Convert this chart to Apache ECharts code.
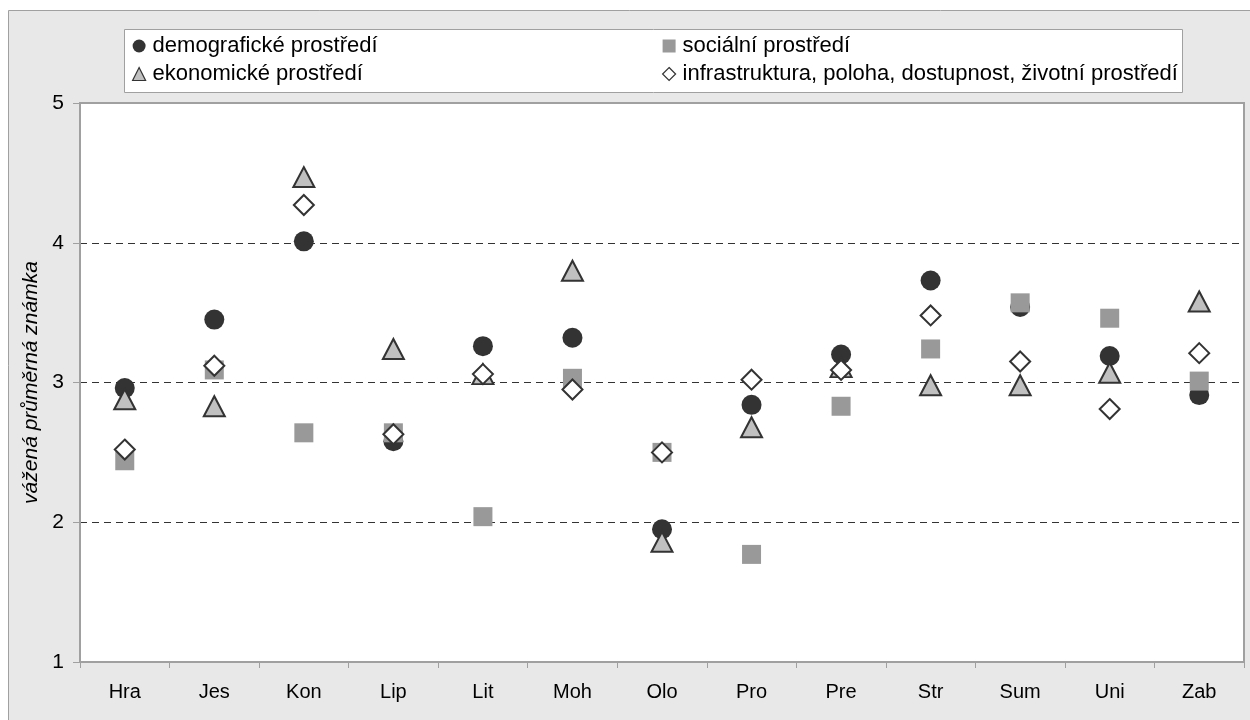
<!DOCTYPE html>
<html><head><meta charset="utf-8">
<script src="https://cdn.jsdelivr.net/npm/echarts@6/dist/echarts.min.js"></script>
<style>html,body{margin:0;padding:0;background:#fff;}#c{width:1250px;height:720px;}</style>
</head><body><div id="c"></div>
<script>
const categories = ['Hra','Jes','Kon','Lip','Lit','Moh','Olo','Pro','Pre','Str','Sum','Uni','Zab'];
const demograficke = [2.96, 3.45, 4.01, 2.58, 3.26, 3.32, 1.95, 2.84, 3.20, 3.73, 3.54, 3.19, 2.91];
const socialni     = [2.44, 3.09, 2.64, 2.64, 2.04, 3.03, 2.50, 1.77, 2.83, 3.24, 3.57, 3.46, 3.01];
const ekonomicke   = [2.88, 2.83, 4.47, 3.24, 3.06, 3.80, 1.86, 2.68, 3.11, 2.98, 2.98, 3.07, 3.58];
const infrastruktura = [2.52, 3.12, 4.27, 2.63, 3.06, 2.95, 2.50, 3.02, 3.09, 3.48, 3.15, 2.81, 3.21];
const yTicks = [1, 2, 3, 4, 5];
const names = ['demografické prostředí','sociální prostředí','ekonomické prostředí','infrastruktura, poloha, dostupnost, životní prostředí'];
const yName = 'vážená průměrná známka';

const FONT = '"Liberation Sans", Arial, sans-serif';
const legendText = {fontFamily:FONT, fontSize:22, color:'#000', lineHeight:22, padding:[0,0,0,2]};
const chart = echarts.init(document.getElementById('c'));
chart.setOption({
  animation: false,
  backgroundColor: '#fff',
  graphic: [
    {type:'rect', z:-10, shape:{x:8.5,y:10.5,width:1260,height:730}, style:{fill:'#e8e8e8', stroke:'#a0a0a0', lineWidth:1}},
    {type:'rect', z:-5, shape:{x:124.5,y:29.5,width:1058,height:63}, style:{fill:'#fff', stroke:'#a0a0a0', lineWidth:1}}
  ],
  grid: {left:80, top:103, right:6, bottom:58, show:true, backgroundColor:'#fff', borderColor:'#a0a0a0', borderWidth:2},
  legend: [
    {data:[names[0], names[2]], orient:'vertical', left:132, top:35, padding:0, itemWidth:13, itemHeight:13, itemGap:6,
     textStyle:legendText, itemStyle:{borderWidth:1.2}},
    {data:[names[1], names[3]], orient:'vertical', left:662, top:35, padding:0, itemWidth:13, itemHeight:13, itemGap:6,
     textStyle:legendText, itemStyle:{borderWidth:1.2}}
  ],
  xAxis: {
    type:'category', data:categories, boundaryGap:true,
    axisLine:{lineStyle:{color:'#a0a0a0', width:2}},
    axisTick:{show:true, length:6, lineStyle:{color:'#a0a0a0'}},
    axisLabel:{fontFamily:FONT, fontSize:20, color:'#000', margin:20},
    splitLine:{show:false}
  },
  yAxis: {
    type:'value', min:yTicks[0], max:yTicks[yTicks.length-1], interval:1,
    name: yName, nameLocation:'middle', nameGap:35, nameRotate:90,
    nameTextStyle:{fontFamily:FONT, fontSize:21, fontStyle:'italic', color:'#000'},
    axisLine:{show:true, lineStyle:{color:'#a0a0a0', width:2}},
    axisTick:{show:true, length:7, lineStyle:{color:'#a0a0a0'}},
    axisLabel:{fontFamily:FONT, fontSize:21, color:'#000', margin:16},
    splitLine:{show:true, lineStyle:{type:[7,5], width:1, color:['rgba(0,0,0,0)','#333','#333','#333','rgba(0,0,0,0)']}}
  },
  series: [
    {name:names[0], type:'scatter', data:demograficke, symbol:'circle', symbolSize:20,
     itemStyle:{color:'#333', opacity:1}},
    {name:names[1], type:'scatter', data:socialni, symbol:'rect', symbolSize:19,
     itemStyle:{color:'#999', opacity:1}},
    {name:names[2], type:'scatter', data:ekonomicke, symbol:'triangle', symbolSize:[21,20],
     itemStyle:{color:'#c0c0c0', borderColor:'#333', borderWidth:2, opacity:1}},
    {name:names[3], type:'scatter', data:infrastruktura, symbol:'diamond', symbolSize:[20,20],
     itemStyle:{color:'#fff', borderColor:'#333', borderWidth:2, opacity:1}}
  ]
});
</script></body></html>
